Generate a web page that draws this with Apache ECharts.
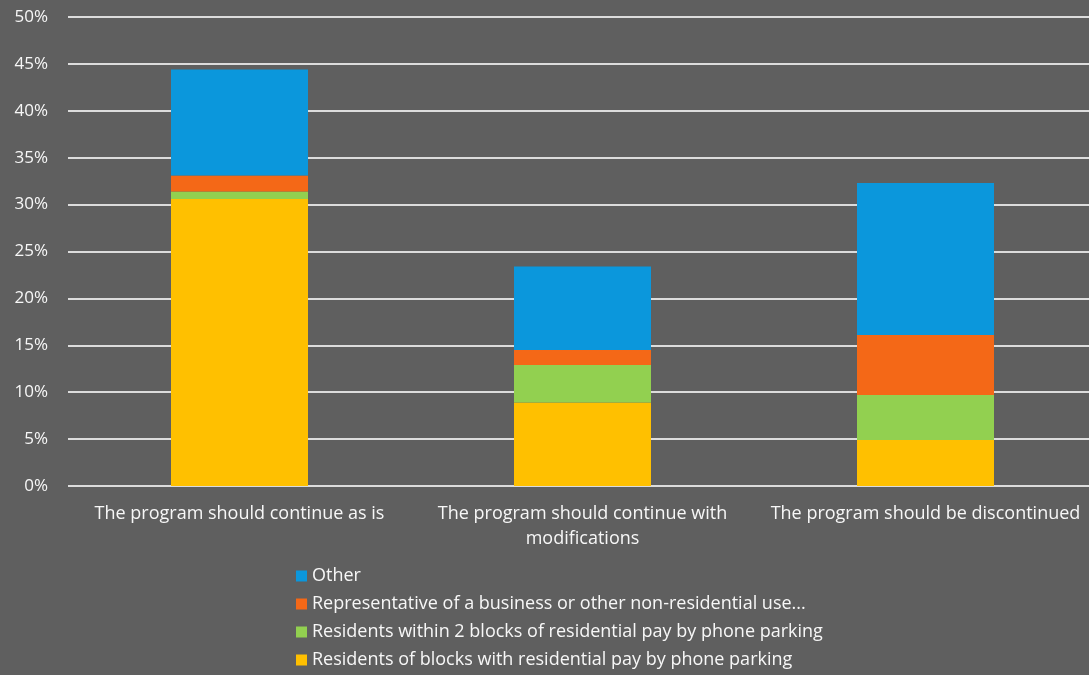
<!DOCTYPE html>
<html>
<head>
<meta charset="utf-8">
<style>
  html, body { margin: 0; padding: 0; background: #5f5f5f; }
  .chart { width: 1089px; height: 675px; }
</style>
<script src="https://cdn.jsdelivr.net/npm/echarts@6/dist/echarts.min.js"></script>
</head>
<body>
<div class="chart"></div>
<script>
const categories = [
  'The program should continue as is',
  'The program should continue with\nmodifications',
  'The program should be discontinued',
]
const seriesNames = [
  'Residents of blocks with residential pay by phone parking',
  'Residents within 2 blocks of residential pay by phone parking',
  'Representative of a business or other non-residential use...',
  'Other',
]
const residentsOf = [30.6, 8.9, 4.9]
const residentsWithin = [0.8, 4.0, 4.8]
const business = [1.7, 1.6, 6.4]
const other = [11.3, 8.9, 16.2]
const yTicks = [0, 50, 5]

;(function () {
  // 堆叠柱状图
  const myColor = ['#ffc000', '#92d050', '#f46817', '#0b97dc']
  const values = [residentsOf, residentsWithin, business, other]
  let myChart = echarts.init(document.querySelector('.chart'))
  let options = {
    backgroundColor: '#5f5f5f',
    color: myColor,
    textStyle: {
      fontFamily: 'Open Sans',
    },
    grid: {
      left: 68,
      width: 1029,
      top: 17,
      bottom: 189,
      outerBoundsMode: 'none',
    },
    legend: {
      orient: 'vertical',
      left: 296,
      top: 567,
      padding: 0,
      height: 110,
      itemWidth: 11,
      itemHeight: 11,
      itemGap: 10,
      icon: 'rect',
      data: seriesNames.slice().reverse(),
      textStyle: {
        color: '#f7f7f7',
        fontSize: 18,
        lineHeight: 17,
      },
    },
    xAxis: {
      type: 'category',
      data: categories,
      axisLine: { show: false },
      axisTick: { show: false },
      axisLabel: {
        interval: 0,
        color: '#f7f7f7',
        fontSize: 18,
        lineHeight: 25,
        margin: 15,
      },
    },
    yAxis: {
      type: 'value',
      min: yTicks[0],
      max: yTicks[1],
      interval: yTicks[2],
      axisLine: { show: false },
      axisTick: { show: false },
      axisLabel: {
        color: '#f7f7f7',
        fontSize: 17,
        margin: 20,
        formatter: '{value}%',
      },
      splitLine: {
        lineStyle: {
          color: '#dcdcdc',
          width: 2,
        },
      },
    },
    series: seriesNames.map((name, i) => ({
      name: name,
      type: 'bar',
      stack: 'total',
      barWidth: 137,
      data: values[i],
    })),
  }
  myChart.setOption(options)
  window.addEventListener('resize', () => {
    myChart.resize()
  })
})()
</script>
</body>
</html>
